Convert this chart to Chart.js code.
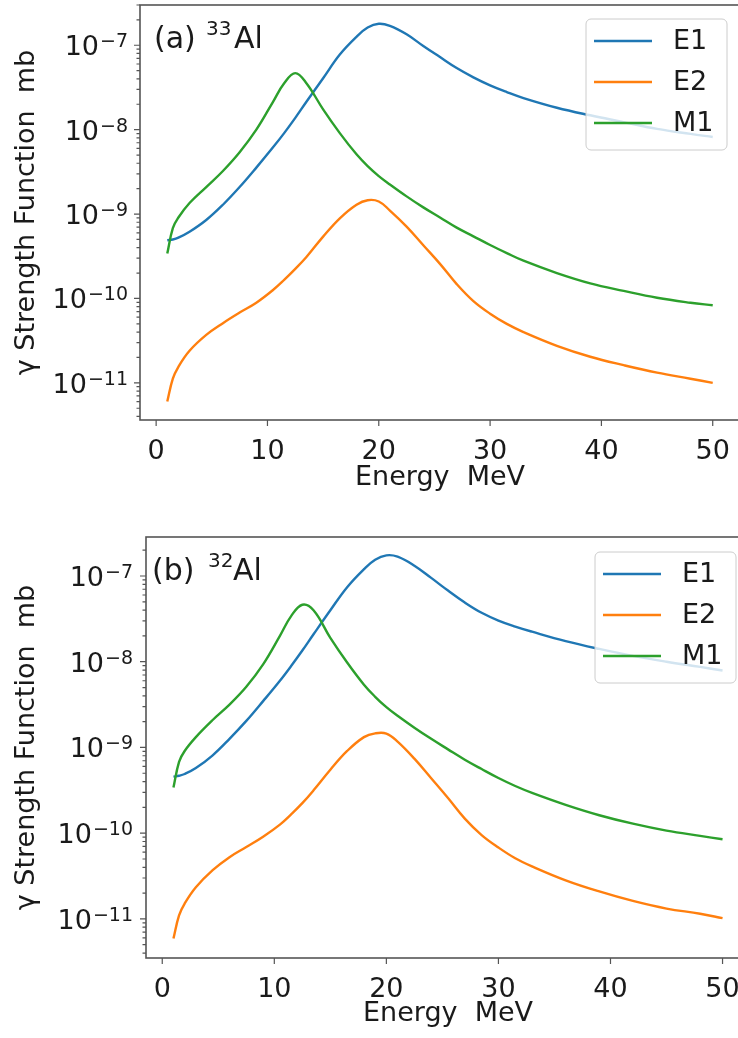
<!DOCTYPE html>
<html><head><meta charset="utf-8">
<script src="https://cdn.jsdelivr.net/npm/chart.js@4.4.1/dist/chart.umd.min.js"></script>
<style>
html,body{margin:0;padding:0;background:#fff;overflow:hidden;}
#wrap{position:relative;width:738px;height:1038px;overflow:hidden;background:#fff;}
#ca{position:absolute;left:0;top:0;}
#cb{position:absolute;left:0;top:500px;}
</style></head><body>
<div id="wrap"><canvas id="ca" width="760" height="500"></canvas><canvas id="cb" width="770" height="538"></canvas></div>
<script>
// ---- data ----
const energy = [1, 1.5, 2, 3, 4.5, 6, 7.5, 9, 10.5, 11.5, 12.5, 13.5, 15, 16.5, 18, 19, 20, 21, 22.5, 24, 25.5, 27, 28.5, 30, 31.5, 33, 36, 39, 42, 45, 48, 50];
const seriesNames = ['E1', 'E2', 'M1'];
const xTickValues = [0, 10, 20, 30, 40, 50];
const yTickExponents = [-11, -10, -9, -8, -7];

const al33E1 = [4.9e-10, 5.0e-10, 5.25e-10, 6.17e-10, 8.5e-10, 1.29e-9, 2.09e-9, 3.55e-9, 6.17e-9, 9.1e-9, 1.38e-8, 2.14e-8, 4.07e-8, 7.76e-8, 1.26e-7, 1.62e-7, 1.8e-7, 1.7e-7, 1.35e-7, 9.8e-8, 7.24e-8, 5.37e-8, 4.17e-8, 3.35e-8, 2.79e-8, 2.37e-8, 1.82e-8, 1.48e-8, 1.23e-8, 1.02e-8, 8.9e-9, 8.2e-9];
const al33E2 = [6.0e-12, 1.12e-11, 1.55e-11, 2.4e-11, 3.7e-11, 5.1e-11, 6.8e-11, 8.9e-11, 1.26e-10, 1.66e-10, 2.24e-10, 3.1e-10, 5.4e-10, 8.9e-10, 1.29e-9, 1.46e-9, 1.41e-9, 1.1e-9, 7.1e-10, 4.27e-10, 2.57e-10, 1.48e-10, 9.3e-11, 6.6e-11, 5.0e-11, 4.0e-11, 2.75e-11, 2.04e-11, 1.62e-11, 1.32e-11, 1.12e-11, 1.0e-11];
const al33M1 = [3.4e-10, 6.8e-10, 9.1e-10, 1.35e-9, 2.09e-9, 3.24e-9, 5.4e-9, 1.0e-8, 2.14e-8, 3.55e-8, 4.68e-8, 3.55e-8, 1.74e-8, 9.1e-9, 5.1e-9, 3.7e-9, 2.82e-9, 2.24e-9, 1.62e-9, 1.2e-9, 9.1e-10, 6.9e-10, 5.45e-10, 4.3e-10, 3.45e-10, 2.8e-10, 2.0e-10, 1.51e-10, 1.23e-10, 1.02e-10, 8.9e-11, 8.3e-11];

const al32E1 = [4.57e-10, 4.68e-10, 4.9e-10, 5.75e-10, 8.1e-10, 1.26e-9, 2.04e-9, 3.47e-9, 6.0e-9, 8.9e-9, 1.35e-8, 2.09e-8, 3.98e-8, 7.4e-8, 1.2e-7, 1.55e-7, 1.74e-7, 1.68e-7, 1.32e-7, 9.5e-8, 6.76e-8, 4.9e-8, 3.72e-8, 3.02e-8, 2.57e-8, 2.24e-8, 1.74e-8, 1.41e-8, 1.17e-8, 1.0e-8, 8.7e-9, 7.9e-9];
const al32E2 = [5.9e-12, 1.1e-11, 1.51e-11, 2.34e-11, 3.7e-11, 5.25e-11, 6.9e-11, 9.1e-11, 1.26e-10, 1.66e-10, 2.24e-10, 3.16e-10, 5.5e-10, 9.1e-10, 1.32e-9, 1.46e-9, 1.45e-9, 1.17e-9, 7.4e-10, 4.37e-10, 2.57e-10, 1.48e-10, 9.5e-11, 6.8e-11, 5.1e-11, 4.1e-11, 2.82e-11, 2.09e-11, 1.62e-11, 1.32e-11, 1.15e-11, 1.02e-11];
const al32M1 = [3.4e-10, 6.8e-10, 9.1e-10, 1.32e-9, 2.09e-9, 3.16e-9, 5.1e-9, 9.3e-9, 2.0e-8, 3.4e-8, 4.62e-8, 3.98e-8, 1.9e-8, 9.8e-9, 5.4e-9, 3.9e-9, 2.95e-9, 2.34e-9, 1.7e-9, 1.26e-9, 9.5e-10, 7.2e-10, 5.6e-10, 4.4e-10, 3.55e-10, 2.95e-10, 2.14e-10, 1.62e-10, 1.29e-10, 1.07e-10, 9.3e-11, 8.5e-11];

// ---- helpers ----
const FONT = '"DejaVu Sans", "Liberation Sans", sans-serif';
const TEXT = '#1a1a1a';
const SPINE = '#555555';
const COLORS = ['#1f77b4', '#ff7f0e', '#2ca02c'];
function pts(values) { return energy.map((x, i) => ({x: x, y: values[i]})); }

const decorPlugin = {
  id: 'decor',
  afterDraw(chart, args, o) {
    const ctx = chart.ctx, a = chart.chartArea, xs = chart.scales.x, ys = chart.scales.y;
    ctx.save();
    // tick marks
    ctx.strokeStyle = SPINE; ctx.lineWidth = 1.2;
    ctx.beginPath();
    xTickValues.forEach(v => {
      const px = xs.getPixelForValue(v);
      ctx.moveTo(px, a.bottom); ctx.lineTo(px, a.bottom + 6);
    });
    for (let d = -12; d <= -6; d++) {
      for (let m = 1; m <= 9; m++) {
        const v = m * Math.pow(10, d);
        if (v < ys.min || v > ys.max) continue;
        const py = ys.getPixelForValue(v);
        const len = m === 1 ? 6 : 3.5;
        ctx.moveTo(a.left, py); ctx.lineTo(a.left - len, py);
      }
    }
    ctx.stroke();
    // y tick labels 10^n with superscript exponent
    ctx.fillStyle = TEXT; ctx.textAlign = 'left'; ctx.textBaseline = 'alphabetic';
    yTickExponents.forEach(e => {
      const py = ys.getPixelForValue(Math.pow(10, e));
      const sup = '\u2212' + Math.abs(e);
      ctx.font = '19px ' + FONT;
      const sw = ctx.measureText(sup).width;
      ctx.font = '27px ' + FONT;
      const bw = ctx.measureText('10').width;
      const right = a.left - o.yLabGap;
      ctx.fillText('10', right - sw - bw - 1, py + 10);
      ctx.font = '19px ' + FONT;
      ctx.fillText(sup, right - sw, py + 2);
    });
    // frame
    ctx.lineWidth = 1.6; ctx.strokeStyle = SPINE;
    ctx.strokeRect(a.left, a.top, a.right - a.left, a.bottom - a.top);
    // legend
    const bw = 141, bh = 131;
    const bx = a.right - o.legRight - bw, by = a.top + o.legTop;
    ctx.beginPath();
    if (ctx.roundRect) ctx.roundRect(bx, by, bw, bh, 5); else ctx.rect(bx, by, bw, bh);
    ctx.fillStyle = 'rgba(255,255,255,0.8)'; ctx.fill();
    ctx.lineWidth = 1; ctx.strokeStyle = '#cccccc'; ctx.stroke();
    const rows = [22, 63, 104];
    chart.data.datasets.forEach((ds, i) => {
      const ry = by + rows[i];
      ctx.beginPath(); ctx.strokeStyle = ds.borderColor; ctx.lineWidth = 2.4;
      ctx.moveTo(bx + 8, ry); ctx.lineTo(bx + 66, ry); ctx.stroke();
      ctx.fillStyle = TEXT; ctx.font = '27px ' + FONT;
      ctx.textAlign = 'left'; ctx.textBaseline = 'middle';
      ctx.fillText(ds.label, bx + 87, ry + 1);
    });
    // panel label
    ctx.fillStyle = TEXT; ctx.textBaseline = 'alphabetic'; ctx.textAlign = 'left';
    const ly = a.top + o.labY;
    ctx.font = '30px ' + FONT;
    ctx.fillText(o.prefix, a.left + o.labX, ly);
    ctx.font = '20px ' + FONT;
    ctx.fillText(o.mass, a.left + o.supX, ly - 13);
    ctx.font = '30px ' + FONT;
    ctx.fillText('Al', a.left + o.alX, ly);
    ctx.restore();
  }
};

function makeChart(id, sets, cfg) {
  return new Chart(document.getElementById(id), {
    type: 'line',
    data: {
      datasets: sets.map((vals, i) => ({
        label: seriesNames[i],
        data: pts(vals),
        borderColor: COLORS[i],
        backgroundColor: COLORS[i],
        borderWidth: 2.4,
        pointRadius: 0,
        fill: false,
        cubicInterpolationMode: 'default',
        tension: 0.4,
        order: 3 - i
      }))
    },
    options: {
      responsive: false,
      animation: false,
      events: [],
      layout: {padding: {top: cfg.padTop, left: 0, right: cfg.padRight, bottom: 0}},
      plugins: {legend: {display: false}, tooltip: {enabled: false}, decor: cfg.decor},
      scales: {
        x: {
          type: 'linear', min: -1.45, max: 52.45, bounds: 'data',
          grid: {display: false}, border: {display: false},
          ticks: {autoSkip: false, padding: 8, color: TEXT, font: {family: FONT, size: 27}, maxRotation: 0,
                  callback: v => String(v)},
          afterBuildTicks: s => { s.ticks = xTickValues.map(v => ({value: v})); },
          afterFit: s => { s.height = 80; s.paddingLeft = 0; s.paddingRight = 0; },
          title: {display: true, text: 'Energy  MeV', color: TEXT, font: {family: FONT, size: 27},
                  padding: {top: 0, bottom: cfg.xTitlePad}}
        },
        y: {
          type: 'logarithmic', min: cfg.yMin, max: cfg.yMax, bounds: 'data',
          grid: {display: false}, border: {display: false},
          ticks: {display: false, autoSkip: false},
          afterBuildTicks: s => { s.ticks = yTickExponents.map(e => ({value: Math.pow(10, e), major: true})); },
          afterFit: s => { s.width = cfg.yWidth; s.paddingTop = 0; s.paddingBottom = 0; },
          title: {display: true, text: 'γ Strength Function  mb', color: TEXT, font: {family: FONT, size: 27},
                  padding: {top: 11, bottom: 0}}
        }
      }
    },
    plugins: [decorPlugin]
  });
}

makeChart('ca', [al33E1, al33E2, al33M1], {
  padTop: 5, padRight: 20, yWidth: 140, yMin: 3.63e-12, yMax: 3.0e-7, xTitlePad: 6,
  decor: {yLabGap: 12, legRight: 13, legTop: 14, labX: 14, labY: 43, supX: 66, alX: 94, prefix: '(a)', mass: '33'}
});
makeChart('cb', [al32E1, al32E2, al32M1], {
  padTop: 37, padRight: 20, yWidth: 146, yMin: 3.5e-12, yMax: 2.85e-7, xTitlePad: 8,
  decor: {yLabGap: 13, legRight: 14, legTop: 15, labX: 6, labY: 43, supX: 62, alX: 87, prefix: '(b)', mass: '32'}
});
</script>
</body></html>
